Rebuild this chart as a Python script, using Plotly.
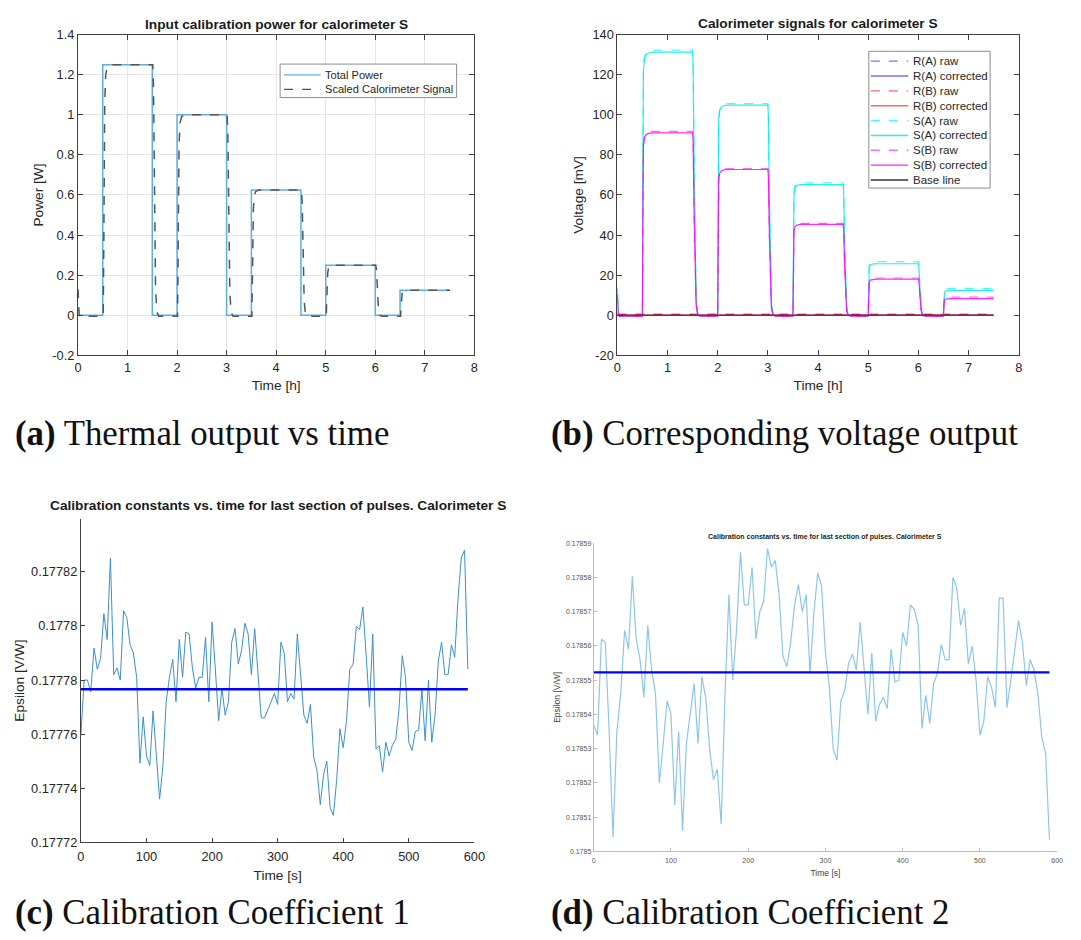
import plotly.graph_objects as go

# ---------------- data ----------------
# calibration pulse programme (hours / watts)
pulse_on = [0.5, 2.0, 3.5, 5.0, 6.5]
pulse_off = [1.5, 3.0, 4.5, 6.0, 7.5]
pulse_power = [1.25, 1.0, 0.625, 0.25, 0.125]
t_end = 7.5

# step response of the calorimeter (hours after edge, fraction of step)
a_rise_dt = [0.0, 0.012, 0.03, 0.05, 0.08, 0.15]
a_rise_frac = [0.0, 0.30, 0.85, 0.96, 0.99, 1.0]
a_fall_dt = [0.0, 0.015, 0.035, 0.055, 0.08, 0.12]
a_fall_frac = [1.0, 0.90, 0.45, 0.12, 0.02, 0.0]
a_start_dt = [0.0, 0.01, 0.025, 0.04]
a_start_val = [0.13, 0.05, 0.0, -0.005]
a_base = -0.005

b_rise_dt = [0.0, 0.008, 0.02, 0.04, 0.07, 0.12, 0.2]
b_rise_frac = [0.0, 0.55, 0.93, 0.975, 0.99, 0.997, 1.0]
b_fall_dt = [0.0, 0.01, 0.03, 0.05, 0.07, 0.1, 0.15]
b_fall_frac = [1.0, 0.95, 0.55, 0.2, 0.06, 0.01, 0.0]
b_start_dt = [0.0, 0.008, 0.018, 0.035]
b_start_frac = [1.0, 0.35, 0.08, 0.0]
b_base = -0.4

# plateau voltages (mV) for each pulse
s_a_raw = [132.2, 105.6, 66.1, 26.8, 13.4]
s_a_cor = [131.2, 104.8, 65.2, 25.7, 12.4]
s_b_raw = [91.7, 73.2, 45.8, 18.6, 9.0]
s_b_cor = [91.0, 72.7, 45.3, 18.0, 8.3]
s_start = {"S(A) raw": 14.0, "S(A) corrected": 13.5, "S(B) raw": 10.5, "S(B) corrected": 10.0}

# reference-channel and base-line levels (mV)
ref_t = [0.0, 7.5]
r_a_raw = [0.3, 0.35]
r_a_cor = [0.0, 0.05]
r_b_raw = [0.6, 0.6]
r_b_cor = [0.2, 0.25]
base_line = [0.0, 0.0]

# calibration constants, last section of pulses (time in s, V/W)
c_time = list(range(0, 595, 5))
eps_c = [
    0.17776, 0.17778, 0.17778, 0.1777757, 0.1777918, 0.177784, 0.177788, 0.1778045,
    0.177795, 0.177825, 0.177782, 0.1777845, 0.17778, 0.1778056, 0.177803, 0.177793,
    0.17779, 0.177781, 0.1777493, 0.1777664, 0.177752, 0.1777484, 0.1777686, 0.1777515,
    0.177736, 0.177748, 0.177772, 0.177781, 0.1777876, 0.177772, 0.177795, 0.177781,
    0.1777977, 0.177797, 0.1777845, 0.177777, 0.177781, 0.177781, 0.1777958, 0.177772,
    0.1778014, 0.177784, 0.177765, 0.177777, 0.177767, 0.177772, 0.177794, 0.177799,
    0.177786, 0.177791, 0.177801, 0.177797, 0.177782, 0.177799, 0.177784, 0.177766,
    0.177766, 0.177769, 0.177772, 0.177775, 0.177771, 0.177794, 0.17779, 0.177772,
    0.177775, 0.177773, 0.177797, 0.177782, 0.177767, 0.177764, 0.177771, 0.1777515,
    0.1777466, 0.177734, 0.177745, 0.17775, 0.177733, 0.17773, 0.177743, 0.177762,
    0.177755, 0.177765, 0.177784, 0.1777857, 0.1777998, 0.1777986, 0.177807, 0.177789,
    0.17777, 0.177797, 0.1777545, 0.1777557, 0.177746, 0.177757, 0.177752, 0.177756,
    0.177758, 0.177769, 0.177789, 0.177781, 0.177757, 0.177754, 0.177761, 0.1777615,
    0.1777765, 0.1777576, 0.17778, 0.177757, 0.177767, 0.177787, 0.177794, 0.177782,
    0.177782, 0.177793, 0.1777884, 0.17781, 0.1778251, 0.177828, 0.177784,
]
eps_c_mean = 0.1777766

d_time = list(range(0, 595, 5))
eps_d = [
    0.1785368, 0.178534, 0.178562, 0.178561, 0.178535, 0.1785042, 0.178535, 0.178546,
    0.1785646, 0.178559, 0.1785804, 0.178562, 0.178556, 0.178545, 0.178566, 0.178553,
    0.178546, 0.17852, 0.1785315, 0.178544, 0.17854, 0.1785135, 0.178535, 0.178506,
    0.1785315, 0.178541, 0.178549, 0.1785315, 0.178551, 0.178545, 0.17853, 0.178521,
    0.178524, 0.178508, 0.178546, 0.178575, 0.17855, 0.178565, 0.1785875, 0.178572,
    0.178572, 0.178583, 0.178562, 0.17857, 0.178573, 0.1785885, 0.178583, 0.178585,
    0.178575, 0.178557, 0.178554, 0.178561, 0.178572, 0.178578, 0.17857, 0.178575,
    0.178552, 0.1785695, 0.1785814, 0.1785775, 0.178558, 0.178548, 0.17853, 0.1785266,
    0.178544, 0.178547, 0.178555, 0.1785576, 0.178553, 0.178567, 0.178554, 0.17854,
    0.178558, 0.178538, 0.178543, 0.178545, 0.1785417, 0.178559, 0.1785495, 0.17855,
    0.178564, 0.17856, 0.178572, 0.1785707, 0.178566, 0.1785359, 0.1785456, 0.1785373,
    0.178549, 0.178552, 0.1785605, 0.178556, 0.178556, 0.17858, 0.178577, 0.178566,
    0.178571, 0.1785547, 0.17856, 0.17855, 0.178534, 0.178538, 0.178551, 0.178548,
    0.178542, 0.178574, 0.178574, 0.178542, 0.17855, 0.178559, 0.1785675, 0.178561,
    0.1785485, 0.178556, 0.178553, 0.178546, 0.1785334, 0.1785286, 0.1785034,
]
eps_d_mean = 0.1785523

# axis ticks
a_xticks = [0, 1, 2, 3, 4, 5, 6, 7, 8]
a_yticks = [-0.2, 0, 0.2, 0.4, 0.6, 0.8, 1, 1.2, 1.4]
a_ylabels = ["-0.2", "0", "0.2", "0.4", "0.6", "0.8", "1", "1.2", "1.4"]
b_yticks = [-20, 0, 20, 40, 60, 80, 100, 120, 140]
b_ylabels = ["-20", "0", "20", "40", "60", "80", "100", "120", "140"]
c_xticks = [0, 100, 200, 300, 400, 500, 600]
c_yticks = [0.17772, 0.17774, 0.17776, 0.17778, 0.1778, 0.17782]
c_ylabels = ["0.17772", "0.17774", "0.17776", "0.17778", "0.1778", "0.17782"]
d_yticks = [0.1785, 0.17851, 0.17852, 0.17853, 0.17854, 0.17855, 0.17856, 0.17857, 0.17858, 0.17859]
d_ylabels = ["0.1785", "0.17851", "0.17852", "0.17853", "0.17854", "0.17855", "0.17856", "0.17857", "0.17858", "0.17859"]


# ---------------- helpers ----------------
def response(levels, base, start_dt, start_vals, rise_dt, rise_frac, fall_dt, fall_frac):
    """Assemble a calorimeter trace from plateau levels and the measured edge shapes."""
    xs = list(start_dt)
    ys = list(start_vals)
    for on, off, lev in zip(pulse_on, pulse_off, levels):
        xs.append(on)
        ys.append(base)
        for dt, f in zip(rise_dt[1:], rise_frac[1:]):
            xs.append(on + dt)
            ys.append(base + (lev - base) * f)
        if off < t_end:
            for dt, f in zip(fall_dt, fall_frac):
                xs.append(off + dt)
                ys.append(base + (lev - base) * f)
        else:
            xs.append(off)
            ys.append(lev)
    return xs, ys


W, H = 1081, 940


def fx(p):
    return p / W


def fy(p):
    return 1 - p / H


SANS = "Liberation Sans, Arial, sans-serif"
SERIF = "Liberation Serif, Times New Roman, serif"
AX = "#404040"
TXT = "#262626"
TICK = 12.8
LAB = 13.7

# panel frames in pixels: (left, right, top, bottom)
A_BOX = (75, 477, 27, 353)
B_BOX = (622, 1029, 27, 353)
C_BOX = (78, 477, 519, 848)
D_BOX = (598, 1068, 544, 857)

fig = go.Figure()

# ---------------- (a) input power ----------------
tp_x = [0.0]
tp_y = [0.0]
for on, off, p in zip(pulse_on, pulse_off, pulse_power):
    tp_x += [on, on, off]
    tp_y += [0.0, p, p]
    if off < t_end:
        tp_x.append(off)
        tp_y.append(0.0)

a_styles = [
    ("Total Power", "#5aafe6", "solid"),
    ("Scaled Calorimeter Signal", "#555555", "dash"),
]
fig.add_trace(go.Scatter(
    x=tp_x, y=tp_y, mode="lines", name=a_styles[0][0],
    line=dict(color=a_styles[0][1], width=1.5), xaxis="x", yaxis="y", showlegend=False,
))
a_sx, a_sy = response(pulse_power, a_base,
                      a_start_dt, a_start_val, a_rise_dt, a_rise_frac, a_fall_dt, a_fall_frac)
a_sx = [x + 0.01 if x >= pulse_on[0] else x for x in a_sx]
fig.add_trace(go.Scatter(
    x=a_sx, y=a_sy, mode="lines", name=a_styles[1][0],
    line=dict(color=a_styles[1][1], width=1.5, dash="dash"), xaxis="x", yaxis="y", showlegend=False,
))

# ---------------- (b) voltage signals ----------------
b_styles = [
    ("R(A) raw", "rgba(0,0,255,0.55)", "dash"),
    ("R(A) corrected", "rgba(0,0,255,0.55)", "solid"),
    ("R(B) raw", "rgba(255,0,0,0.6)", "dash"),
    ("R(B) corrected", "rgba(255,0,0,0.6)", "solid"),
    ("S(A) raw", "rgba(0,255,255,0.75)", "dash"),
    ("S(A) corrected", "rgba(0,235,235,0.85)", "solid"),
    ("S(B) raw", "rgba(255,0,255,0.6)", "dash"),
    ("S(B) corrected", "rgba(255,0,255,0.85)", "solid"),
    ("Base line", "#333333", "solid"),
]
r_values = [r_a_raw, r_a_cor, r_b_raw, r_b_cor]
for (name, col, dash), ys in zip(b_styles[:4], r_values):
    fig.add_trace(go.Scatter(
        x=ref_t, y=ys, mode="lines", name=name,
        line=dict(color=col, width=1.2, dash=dash), xaxis="x2", yaxis="y2", showlegend=False,
    ))

for (name, col, dash), levels in zip(b_styles[4:8], [s_a_raw, s_a_cor, s_b_raw, s_b_cor]):
    v0 = s_start[name]
    start_vals = [b_base + (v0 - b_base) * f for f in b_start_frac]
    xs, ys = response(levels, b_base, b_start_dt, start_vals,
                      b_rise_dt, b_rise_frac, b_fall_dt, b_fall_frac)
    fig.add_trace(go.Scatter(
        x=xs, y=ys, mode="lines", name=name,
        line=dict(color=col, width=1.2, dash=dash), xaxis="x2", yaxis="y2", showlegend=False,
    ))

fig.add_trace(go.Scatter(
    x=ref_t, y=base_line, mode="lines", name=b_styles[8][0],
    line=dict(color=b_styles[8][1], width=1.2), xaxis="x2", yaxis="y2", showlegend=False,
))

# ---------------- (c) calibration constants ----------------
fig.add_trace(go.Scatter(
    x=c_time, y=eps_c, mode="lines", line=dict(color="#3a8fd0", width=1),
    xaxis="x3", yaxis="y3", showlegend=False,
))
fig.add_trace(go.Scatter(
    x=[c_time[0], c_time[-1]], y=[eps_c_mean, eps_c_mean], mode="lines",
    line=dict(color="#0000ff", width=2.5), xaxis="x3", yaxis="y3", showlegend=False,
))

# ---------------- (d) calibration constants ----------------
fig.add_trace(go.Scatter(
    x=d_time, y=eps_d, mode="lines", line=dict(color="#8cc6ee", width=1.2),
    xaxis="x4", yaxis="y4", showlegend=False,
))
fig.add_trace(go.Scatter(
    x=[d_time[0], d_time[-1]], y=[eps_d_mean, eps_d_mean], mode="lines",
    line=dict(color="#0000ff", width=2.2), xaxis="x4", yaxis="y4", showlegend=False,
))

# ---------------- axes ----------------
def box_axis(**kw):
    base = dict(showline=True, linecolor=AX, linewidth=1, mirror="ticks", ticks="inside",
                ticklen=5, tickcolor=AX, zeroline=False,
                tickfont=dict(family=SANS, size=TICK, color=TXT))
    base.update(kw)
    return base


def xdom(box):
    return [fx(box[0]), fx(box[1])]


def ydom(box):
    return [fy(box[3]), fy(box[2])]


grid = dict(showgrid=True, gridcolor="#e6e6e6", gridwidth=1)
nogrid = dict(showgrid=False)

fig.update_layout(
    xaxis=box_axis(domain=xdom(A_BOX), range=[0, 8], tickvals=a_xticks, anchor="y",
                   title=dict(text="Time [h]", font=dict(family=SANS, size=LAB, color=TXT), standoff=6),
                   **grid),
    yaxis=box_axis(domain=ydom(A_BOX), range=[-0.2, 1.4], tickvals=a_yticks, ticktext=a_ylabels,
                   anchor="x",
                   title=dict(text="Power [W]", font=dict(family=SANS, size=LAB, color=TXT), standoff=5),
                   **grid),
    xaxis2=box_axis(domain=xdom(B_BOX), range=[0, 8], tickvals=a_xticks, anchor="y2",
                    title=dict(text="Time [h]", font=dict(family=SANS, size=LAB, color=TXT), standoff=6),
                    **nogrid),
    yaxis2=box_axis(domain=ydom(B_BOX), range=[-20, 140], tickvals=b_yticks, ticktext=b_ylabels,
                    anchor="x2",
                    title=dict(text="Voltage [mV]", font=dict(family=SANS, size=LAB, color=TXT), standoff=5),
                    **nogrid),
    xaxis3=dict(domain=xdom(C_BOX), range=[0, 600], tickvals=c_xticks, anchor="y3",
                showline=True, linecolor=AX, ticks="inside", ticklen=4, tickcolor=AX,
                zeroline=False, showgrid=False, ticklabelstandoff=2,
                tickfont=dict(family=SANS, size=TICK, color=TXT),
                title=dict(text="Time [s]", font=dict(family=SANS, size=LAB, color=TXT), standoff=7)),
    yaxis3=dict(domain=ydom(C_BOX), range=[0.17772, 0.1778396], tickvals=c_yticks,
                ticktext=c_ylabels, anchor="x3",
                showline=True, linecolor=AX, ticks="inside", ticklen=4, tickcolor=AX,
                zeroline=False, showgrid=False,
                tickfont=dict(family=SANS, size=TICK, color=TXT),
                title=dict(text="Epsilon [V/W]", font=dict(family=SANS, size=LAB, color=TXT), standoff=3)),
    xaxis4=dict(domain=xdom(D_BOX), range=[0, 600], tickvals=c_xticks, anchor="y4",
                showline=True, linecolor="#bbbbbb", ticks="inside", ticklen=3, tickcolor="#bbbbbb",
                zeroline=False, showgrid=False, ticklabelstandoff=2,
                tickfont=dict(family=SANS, size=7, color="#555555"),
                title=dict(text="Time [s]", font=dict(family=SANS, size=8.5, color="#444444"), standoff=7)),
    yaxis4=dict(domain=ydom(D_BOX), range=[0.1785, 0.17859], tickvals=d_yticks,
                ticktext=d_ylabels, anchor="x4",
                showline=True, linecolor="#bbbbbb", ticks="inside", ticklen=3, tickcolor="#bbbbbb",
                zeroline=False, showgrid=False,
                tickfont=dict(family=SANS, size=7, color="#555555"),
                title=dict(text="Epsilon [V/W]", font=dict(family=SANS, size=8.5, color="#444444"), standoff=4)),
)

# ---------------- legends (compact MATLAB-style boxes) ----------------
shapes = []
annotations = []


def legend_box(box, styles, first_row, pitch, sample, text_x, size):
    x0, y0, x1, y1 = box
    shapes.append(dict(type="rect", xref="paper", yref="paper", layer="above",
                       x0=fx(x0), x1=fx(x1), y0=fy(y1), y1=fy(y0),
                       fillcolor="white", line=dict(color="#8c8c8c", width=1)))
    for i, (name, col, dash) in enumerate(styles):
        yy = first_row + i * pitch
        shapes.append(dict(type="line", xref="paper", yref="paper", layer="above",
                           x0=fx(sample[0]), x1=fx(sample[1]), y0=fy(yy), y1=fy(yy),
                           line=dict(color=col, width=1.4, dash=dash)))
        annotations.append(dict(text=name, x=fx(text_x), y=fy(yy), xanchor="left",
                                yanchor="middle", xref="paper", yref="paper", showarrow=False,
                                borderpad=0, font=dict(family=SANS, size=size, color=TXT)))


legend_box((280, 57, 459, 91), a_styles, 68, 14.7, (284, 321), 324, 11.1)
legend_box((877, 44, 1000, 183), b_styles, 54, 15.1, (879, 917), 921, 11.5)

# ---------------- titles & captions ----------------
titles = [
    dict(text="<b>Input calibration power for calorimeter S</b>", x=fx((A_BOX[0] + A_BOX[1]) / 2),
         y=fy(16.7), font=dict(family=SANS, size=LAB, color="#1a1a1a")),
    dict(text="<b>Calorimeter signals for calorimeter S</b>", x=fx((B_BOX[0] + B_BOX[1]) / 2),
         y=fy(16), font=dict(family=SANS, size=LAB, color="#1a1a1a")),
    dict(text="<b>Calibration constants vs. time for last section of pulses. Calorimeter S</b>",
         x=fx((C_BOX[0] + C_BOX[1]) / 2), y=fy(506), font=dict(family=SANS, size=LAB, color="#1a1a1a")),
    dict(text="<b>Calibration constants vs. time for last section of pulses. Calorimeter S</b>",
         x=fx((D_BOX[0] + D_BOX[1]) / 2), y=fy(538), font=dict(family=SANS, size=7, color="#222222")),
    dict(text="<b>(a)</b> Thermal output vs time", x=fx(9), y=fy(432), xanchor="left",
         font=dict(family=SERIF, size=34.8, color="#111111")),
    dict(text="<b>(b)</b> Corresponding voltage output", x=fx(553), y=fy(432), xanchor="left",
         font=dict(family=SERIF, size=34.8, color="#111111")),
    dict(text="<b>(c)</b> Calibration Coefficient 1", x=fx(9), y=fy(919.5), xanchor="left",
         font=dict(family=SERIF, size=34.8, color="#111111")),
    dict(text="<b>(d)</b> Calibration Coefficient 2", x=fx(553), y=fy(919.5), xanchor="left",
         font=dict(family=SERIF, size=34.8, color="#111111")),
]
for ann in titles:
    ann.setdefault("xanchor", "center")
    ann.update(xref="paper", yref="paper", yanchor="middle", showarrow=False)

fig.update_layout(
    width=W, height=H, margin=dict(l=0, r=0, t=0, b=0),
    paper_bgcolor="white", plot_bgcolor="white",
    annotations=titles + annotations,
    shapes=shapes,
    showlegend=False,
)

fig.write_html("out.html")
